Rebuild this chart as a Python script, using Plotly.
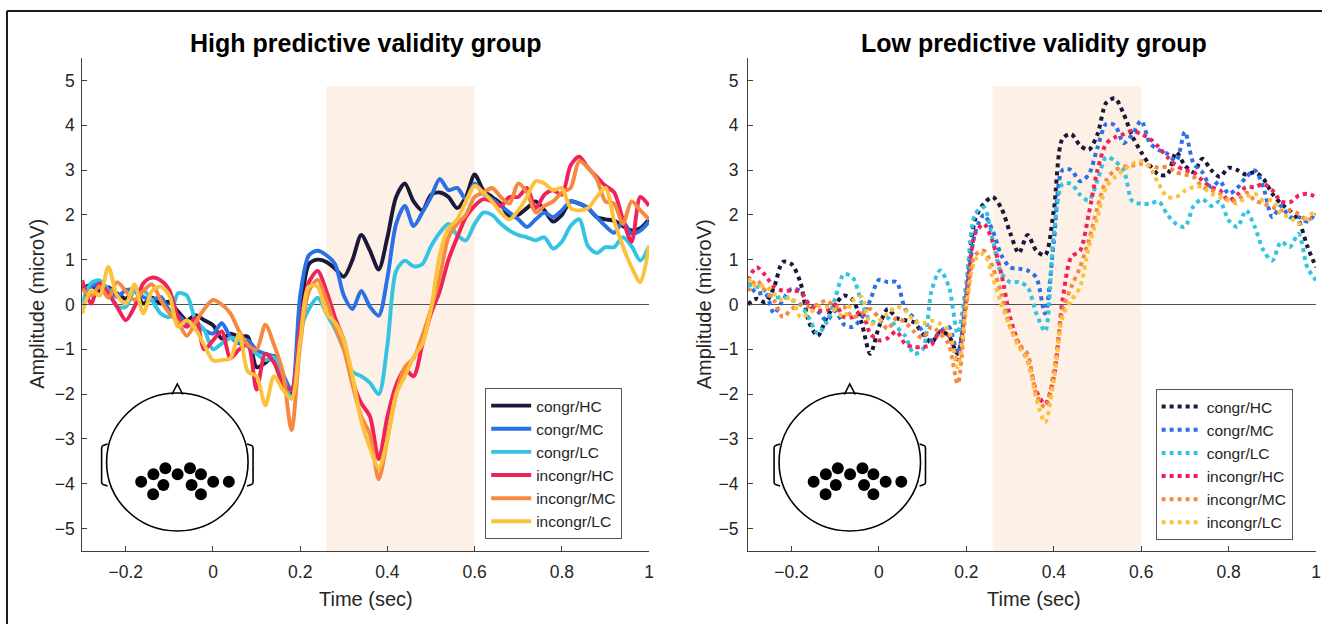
import plotly.graph_objects as go

W, H = 1327, 624
FONT = "Liberation Sans, Arial, Helvetica, sans-serif"
TXT = "#262626"

# time axis (s), 20 ms steps
time_s = [round(-0.3 + 0.02 * i, 2) for i in range(66)]

labels = ["congr/HC", "congr/MC", "congr/LC", "incongr/HC", "incongr/MC", "incongr/LC"]
colors = ["#1b1838", "#2a70e6", "#33c4e2", "#ef2259", "#f6893e", "#fcc23c"]

# ---- High predictive validity group (solid) ----
high_congr_HC = [0.35, 0.43, 0.3, 0.38, 0.25, 0.13, 0.32, 0.02, 0.15, 0.02, 0.06, -0.16, -0.35, -0.24, -0.35, -0.46,
                 -0.76, -0.65, -0.72, -0.72, -1.4, -1.3, -1.15, -1.8, -2.0, -0.3, 0.9, 1.0, 0.95, 0.8, 0.62, 1.0,
                 1.55, 1.2, 0.78, 1.5, 2.4, 2.7, 2.3, 2.1, 2.45, 2.5, 2.4, 2.15, 2.4, 2.9, 2.55, 2.4, 2.25, 1.95,
                 2.0, 2.15, 2.3, 2.1, 1.85, 2.0, 2.3, 2.25, 2.15, 1.95, 1.9, 1.87, 1.75, 1.65, 1.7, 1.9]
high_congr_MC = [0.32, 0.4, 0.47, 0.36, 0.17, 0.32, 0.32, 0.17, 0.1, 0.17, -0.13, -0.24, -0.42, -0.42, -0.57, -0.65,
                 -0.42, -0.72, -0.87, -0.8, -1.02, -1.1, -1.17, -1.55, -1.9, 0.2, 1.1, 1.2, 1.1, 0.9, 0.2, -0.1,
                 0.3, -0.05, -0.25, 0.6, 1.8, 2.2, 1.75, 2.05, 2.4, 2.8, 2.55, 2.6, 2.35, 2.7, 2.47, 2.35, 2.2, 2.05,
                 1.9, 1.73, 1.9, 2.05, 1.95, 2.1, 2.3, 2.25, 2.15, 1.95, 1.75, 1.6, 1.85, 1.58, 1.65, 1.85]
high_congr_LC = [0.02, 0.47, 0.54, 0.3, -0.05, -0.05, 0.32, 0.32, 0.1, -0.2, -0.28, 0.25, 0.2, -0.35, -0.57, -1.0,
                 -0.87, -0.75, -0.8, -0.94, -1.1, -1.24, -1.17, -1.6, -2.1, -0.6, -0.1, 0.15, -0.2, -0.55, -1.0, -1.5,
                 -1.6, -1.75, -2.0, -0.9, 0.75, 0.98, 0.85, 0.9, 1.3, 1.6, 1.8, 1.55, 1.43, 1.8, 2.05, 2.0, 1.8, 1.65,
                 1.55, 1.5, 1.43, 1.5, 1.25, 1.4, 1.75, 1.9, 1.3, 1.15, 1.28, 1.28, 1.5, 1.3, 0.98, 1.3]
high_incongr_HC = [0.54, 0.02, 0.47, 0.25, -0.05, -0.35, -0.05, 0.47, 0.6, 0.54, 0.32, -0.28, -0.5, -0.3, -1.0, -0.8,
                   -0.6, -1.2, -1.0, -0.9, -1.9, -1.1, -1.3, -1.76, -1.9, -0.5, 0.5, 0.75, 0.3, -0.3, -0.8, -1.7,
                   -2.2, -2.5, -3.45, -2.5, -1.8, -1.45, -1.6, -0.9, -0.2, 0.3, 1.0, 1.5, 1.95, 2.2, 2.35, 2.3, 2.2, 2.4,
                   2.4, 2.6, 2.15, 2.45, 2.55, 2.45, 3.1, 3.3, 3.05, 2.85, 2.65, 2.5, 1.9, 1.4, 2.4, 2.2]
high_incongr_MC = [0.35, 0.2, 0.4, 0.15, 0.5, 0.3, 0.1, 0.3, 0.45, 0.1, -0.2, -0.4, -0.7, -0.4, -0.1, 0.1,
                   0.0, -0.2, -0.6, -0.9, -1.0, -0.45, -0.9, -1.5, -2.8, -0.9, 0.3, 0.55, 0.1, -0.5, -1.0, -1.8,
                   -2.5, -2.9, -3.9, -3.0, -2.0, -1.4, -1.2, -0.7, -0.1, 0.6, 1.5, 1.8, 2.0, 2.4, 2.5, 2.6, 2.4, 2.25,
                   2.7, 2.5, 2.05, 2.2, 2.3, 2.5, 2.6, 3.2, 3.05, 2.8, 2.3, 2.25, 1.8, 2.3, 2.1, 1.9]
high_incongr_LC = [-0.2, 0.3, 0.2, 0.84, 0.2, 0.02, 0.45, -0.2, 0.3, 0.4, 0.2, -0.5, -0.35, -0.55, -0.9, -1.25,
                   -1.24, -1.2, -0.65, -1.5, -1.6, -2.25, -1.6, -1.9, -2.1, -0.8, 0.4, 0.4, -0.2, -0.4, -0.8, -1.6,
                   -2.6, -3.2, -3.65, -3.0, -2.0, -1.6, -1.17, -0.88, -0.1, 1.1, 1.7, 1.9, 2.3, 2.65, 2.5, 2.3, 2.05, 1.9,
                   2.1, 2.4, 2.75, 2.7, 2.55, 2.6, 2.15, 2.1, 2.15, 2.4, 2.6, 1.87, 1.3, 0.83, 0.5, 1.32]

# ---- Low predictive validity group (dotted) ----
low_congr_HC = [0.0, 0.13, 0.05, 0.39, 0.95, 0.9, 0.5, -0.4, -0.7, -0.3, 0.0, 0.2, 0.1, -0.4, -1.1, -0.5,
                -0.1, -0.3, -0.35, -0.4, -0.65, -0.85, -0.6, -0.7, -1.1, 0.3, 1.9, 2.25, 2.4, 2.15, 1.6, 1.15,
                1.55, 1.2, 1.1, 2.1, 3.7, 3.8, 3.55, 3.45, 3.8, 4.5, 4.6, 4.25, 3.75, 3.4, 3.1, 2.9, 2.9, 3.4,
                3.1, 2.95, 3.25, 3.0, 2.85, 3.05, 3.0, 2.9, 2.95, 2.8, 2.47, 2.25, 2.1, 1.88, 1.3, 0.83]
low_congr_MC = [0.5, 0.25, 0.25, -0.2, 0.1, 0.35, 0.3, 0.0, -0.15, -0.36, -0.15, -0.45, -0.5, -0.3, 0.1, 0.55,
                0.5, 0.5, -0.1, -0.3, -0.6, -0.8, -0.6, -0.5, -1.1, 0.2, 1.6, 2.0, 1.65, 1.1, 0.83, 0.8,
                0.76, 0.6, -0.2, 1.4, 3.0, 3.0, 2.75, 2.9, 3.5, 4.03, 4.0, 3.6, 3.8, 4.1, 3.6, 3.45, 3.36, 3.2,
                3.85, 3.14, 2.95, 2.62, 2.75, 2.47, 2.6, 2.84, 2.99, 2.6, 1.95, 2.2, 1.95, 1.95, 1.85, 2.05]
low_congr_LC = [0.45, 0.4, 0.3, 0.15, 0.17, 0.1, 0.0, -0.3, -0.65, -0.4, 0.15, 0.68, 0.6, 0.05, -0.36, -0.4,
                -0.3, -0.5, -0.7, -1.1, -1.0, 0.3, 0.76, 0.4, -0.65, 0.5, 2.02, 2.17, 1.45, 0.7, 0.5, 0.5,
                0.39, -0.2, -0.6, 1.58, 2.69, 2.69, 2.45, 2.32, 2.77, 3.29, 3.2, 2.99, 2.3, 2.25, 2.25, 2.3, 2.0, 1.8,
                1.73, 2.2, 2.35, 2.2, 2.3, 1.88, 1.73, 2.1, 1.73, 1.2, 0.98, 1.4, 1.28, 1.58, 0.83, 0.54]
low_incongr_HC = [0.54, 0.83, 0.65, 0.39, 0.31, 0.31, 0.28, 0.0, -0.13, -0.13, 0.0, -0.28, -0.28, -0.15, -0.65, -0.8,
                  -0.75, -0.6, -0.88, -0.95, -0.95, -0.9, -0.6, -0.7, -1.3, 0.2, 1.58, 1.8, 1.4, 0.68, -0.28, -0.88,
                  -1.25, -1.93, -2.22, -1.62, 0.09, 1.06, 1.2, 2.02, 3.0, 3.59, 3.73, 3.8, 3.88, 3.8, 3.7, 3.51, 3.29, 3.1,
                  3.0, 2.95, 2.77, 2.62, 2.55, 2.32, 2.45, 2.62, 2.62, 2.69, 2.55, 2.3, 2.28, 2.43, 2.47, 2.4]
low_incongr_MC = [0.3, 0.54, 0.3, 0.09, -0.28, -0.1, 0.0, -0.05, 0.0, 0.09, -0.05, -0.05, -0.28, -0.2, -0.1, -0.3,
                  -0.55, -0.3, -0.4, -0.6, -0.75, -0.5, -0.65, -0.9, -1.77, 0.0, 1.1, 1.2, 0.83, 0.24, -0.5, -0.88,
                  -1.1, -2.0, -2.3, -1.5, -0.13, 0.39, 0.83, 1.43, 2.17, 2.77, 3.0, 3.07, 3.1, 3.14, 3.1, 3.05, 3.07, 2.95,
                  2.9, 2.85, 2.62, 2.55, 2.47, 2.32, 2.32, 2.5, 2.32, 2.25, 2.17, 2.1, 2.1, 2.02, 1.88, 2.02]
low_incongr_LC = [0.58, 0.39, 0.42, 0.24, 0.09, 0.17, -0.28, -0.2, -0.05, -0.05, -0.13, -0.28, 0.09, 0.17, -0.43, -0.36,
                  -0.2, -0.05, -0.13, -0.36, -0.43, -0.36, -0.43, -0.6, -1.4, 0.0, 1.0, 1.13, 0.61, 0.01, -0.5, -0.95,
                  -1.25, -2.1, -2.63, -1.7, -0.28, 0.09, 0.39, 1.28, 1.95, 2.62, 2.84, 3.0, 3.14, 3.2, 3.05, 2.69, 2.4, 2.4,
                  2.54, 2.62, 2.62, 2.47, 2.4, 2.32, 2.25, 2.4, 2.47, 2.32, 2.32, 2.02, 1.95, 1.8, 1.95, 2.1]

high_series = [high_congr_HC, high_congr_MC, high_congr_LC, high_incongr_HC, high_incongr_MC, high_incongr_LC]
low_series = [low_congr_HC, low_congr_MC, low_congr_LC, low_incongr_HC, low_incongr_MC, low_incongr_LC]

x_ticks = [-0.2, 0, 0.2, 0.4, 0.6, 0.8, 1]
x_ticktext = ["\u22120.2", "0", "0.2", "0.4", "0.6", "0.8", "1"]
y_ticks = [-5, -4, -3, -2, -1, 0, 1, 2, 3, 4, 5]
y_ticktext = [("\u2212" + str(-v)) if v < 0 else str(v) for v in y_ticks]

window = [0.26, 0.6]       # shaded analysis window (s)
window_top = 4.87

fig = go.Figure()
for lab, col, ys in zip(labels, colors, high_series):
    fig.add_trace(go.Scatter(x=time_s, y=ys, name=lab, mode="lines",
                             line=dict(color=col, width=3.9, shape="spline", smoothing=0.8),
                             xaxis="x", yaxis="y", legend="legend"))
for lab, col, ys in zip(labels, colors, low_series):
    fig.add_trace(go.Scatter(x=time_s, y=ys, name=lab, mode="lines",
                             line=dict(color=col, width=4, dash="dot", shape="spline", smoothing=0.8),
                             xaxis="x2", yaxis="y2", legend="legend2"))

def px(x):
    return x / W

def py(y):
    return 1 - y / H

axis_common = dict(showgrid=False, zeroline=False, showline=True, linecolor="#404040", linewidth=1,
                   ticks="inside", ticklen=5, tickcolor="#404040",
                   tickfont=dict(family=FONT, size=17.5, color=TXT))
L0, L1 = 82.5, 651.5
R0, R1 = 750.7, 1321.0
Y0, Y1 = 551, 58
fig.update_layout(
    width=W, height=H, margin=dict(l=0, r=0, t=0, b=0),
    paper_bgcolor="white", plot_bgcolor="white",
    xaxis=dict(domain=[px(L0), px(L1)], range=[-0.3, 1], tickvals=x_ticks, ticktext=x_ticktext,
               anchor="y", ticklabelstandoff=5, **axis_common),
    yaxis=dict(domain=[py(Y0), py(Y1)], range=[-5.5, 5.5], tickvals=y_ticks, ticktext=y_ticktext,
               anchor="x", ticklabelstandoff=3, **axis_common),
    xaxis2=dict(domain=[px(R0), px(R1)], range=[-0.3, 1], tickvals=x_ticks, ticktext=x_ticktext,
                anchor="y2", ticklabelstandoff=5, **axis_common),
    yaxis2=dict(domain=[py(Y0), py(Y1)], range=[-5.5, 5.5], tickvals=y_ticks, ticktext=y_ticktext,
                anchor="x2", ticklabelstandoff=5, **axis_common),
    legend=dict(x=px(487), y=py(388), xanchor="left", yanchor="top", bgcolor="white",
                bordercolor="#555555", borderwidth=1, itemwidth=40, tracegroupgap=0,
                font=dict(family=FONT, size=15.5, color=TXT)),
    legend2=dict(x=px(1160), y=py(389), xanchor="left", yanchor="top", bgcolor="white",
                 bordercolor="#555555", borderwidth=1, itemwidth=40, tracegroupgap=0,
                 font=dict(family=FONT, size=15.5, color=TXT)),
)

shapes = []
for xr, yr in (("x", "y"), ("x2", "y2")):
    shapes.append(dict(type="rect", xref=xr, yref=yr, x0=window[0], x1=window[1], y0=-5.5, y1=window_top,
                       fillcolor="#fdf0e6", line=dict(width=0), layer="below"))
    shapes.append(dict(type="line", xref=xr, yref=yr, x0=-0.3, x1=1, y0=0, y1=0,
                       line=dict(color="#505050", width=1.2), layer="below"))

# head inset with electrode sites (pixel layout)
dots = [(141.7, 481.7), (154, 474.3), (166, 468.3), (178.3, 474.3), (190.7, 468.3), (201.7, 474.3),
        (214, 481.7), (229.7, 481.7), (164, 485), (192.3, 485), (153.7, 494.3), (201.7, 494.3)]
for dx in (0, 675):
    hl = dict(color="black", width=1.6)
    shapes.append(dict(type="circle", xref="paper", yref="paper", x0=px(107 + dx), x1=px(249 + dx),
                       y0=py(531), y1=py(393), line=hl, fillcolor="rgba(0,0,0,0)"))
    shapes.append(dict(type="path", xref="paper", yref="paper", line=hl,
                       path=f"M{px(172.5+dx)},{py(394.5)} L{px(178+dx)},{py(384)} L{px(183.5+dx)},{py(394.5)}"))
    shapes.append(dict(type="path", xref="paper", yref="paper", line=hl,
                       path=(f"M{px(108+dx)},{py(444)} L{px(103.5+dx)},{py(445.5)} Q{px(102+dx)},{py(446)} {px(102+dx)},{py(448)} "
                             f"L{px(102+dx)},{py(482)} Q{px(102+dx)},{py(484)} {px(103.5+dx)},{py(484.5)} L{px(108+dx)},{py(486)}")))
    shapes.append(dict(type="path", xref="paper", yref="paper", line=hl,
                       path=(f"M{px(248+dx)},{py(444)} L{px(252.5+dx)},{py(445.5)} Q{px(254+dx)},{py(446)} {px(254+dx)},{py(448)} "
                             f"L{px(254+dx)},{py(482)} Q{px(254+dx)},{py(484)} {px(252.5+dx)},{py(484.5)} L{px(248+dx)},{py(486)}")))
    for (cx, cy) in dots:
        shapes.append(dict(type="circle", xref="paper", yref="paper", x0=px(cx + dx - 6), x1=px(cx + dx + 6),
                           y0=py(cy + 6), y1=py(cy - 6), fillcolor="black", line=dict(width=0)))

# outer frame (left and top)
shapes.append(dict(type="line", xref="paper", yref="paper", x0=px(7), x1=px(7), y0=py(11), y1=0,
                   line=dict(color="#1a1a1a", width=2)))
shapes.append(dict(type="line", xref="paper", yref="paper", x0=px(7), x1=1, y0=py(11), y1=py(11),
                   line=dict(color="#1a1a1a", width=2)))
fig.update_layout(shapes=shapes)

ann = []
for cx, title in ((367, "High predictive validity group"), (1038, "Low predictive validity group")):
    ann.append(dict(text=f"<b>{title}</b>", x=px(cx), y=py(43), xref="paper", yref="paper",
                    showarrow=False, xanchor="center", yanchor="middle",
                    font=dict(family=FONT, size=25, color="black")))
for cx in (367, 1038):
    ann.append(dict(text="Time (sec)", x=px(cx), y=py(599), xref="paper", yref="paper",
                    showarrow=False, xanchor="center", yanchor="middle",
                    font=dict(family=FONT, size=20, color=TXT)))
for cx in (37, 707):
    ann.append(dict(text="Amplitude (microV)", x=px(cx), y=py(304), xref="paper", yref="paper",
                    showarrow=False, xanchor="center", yanchor="middle", textangle=-90,
                    font=dict(family=FONT, size=20, color=TXT)))
fig.update_layout(annotations=ann)

fig.write_html("out.html")
